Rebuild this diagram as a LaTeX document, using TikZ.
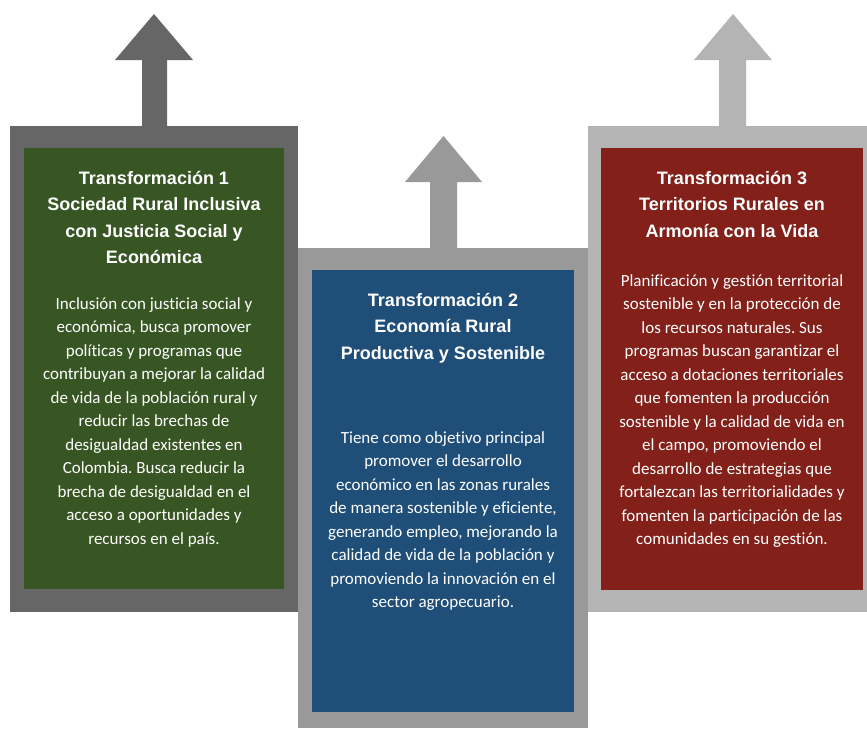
\documentclass[tikz,border=0pt]{standalone}
\usepackage{fontspec}
\setmainfont{Carlito}[Ligatures=NoCommon]
\newfontfamily\headfont{Liberation Sans}
\frenchspacing
\definecolor{frameone}{HTML}{666666}
\definecolor{frametwo}{HTML}{999999}
\definecolor{framethree}{HTML}{B4B4B4}
\definecolor{boxgreen}{HTML}{375623}
\definecolor{boxblue}{HTML}{1F4E79}
\definecolor{boxred}{HTML}{822019}
\tikzset{
  headtext/.style={text=white, align=center, inner sep=0pt, anchor=north,
    font=\headfont\bfseries\fontsize{18}{26.3}\selectfont},
  bodytext/.style={text=white, align=center, inner sep=0pt, anchor=north,
    font=\fontsize{17}{23.5}\selectfont}
}
\begin{document}
\begin{tikzpicture}[x=1pt,y=-1pt]
            \useasboundingbox (0,0) rectangle (867,728);
            \fill[white] (0,0) rectangle (867,728);

            \fill[frameone] (142,127) -- (142,60) -- (115,60) -- (154,14) -- (193,60) -- (167,60) -- (167,127) -- cycle;
            \fill[frameone] (10,126) rectangle (298,612);
            \fill[boxgreen] (24,148) rectangle (284,589);

            \fill[frametwo] (430,249) -- (430,182) -- (405,182) -- (443.5,136) -- (482,182) -- (457,182) -- (457,249) -- cycle;
            \fill[frametwo] (298,248) rectangle (588,728);
            \fill[boxblue] (312,270) rectangle (574,712);

            \fill[framethree] (719,127) -- (719,60) -- (694,60) -- (733,14) -- (772,60) -- (746,60) -- (746,127) -- cycle;
            \fill[framethree] (588,126) rectangle (867,612);
            \fill[boxred] (601,148) rectangle (863,590);

            \node[headtext] (title1) at (154,171) {Transformación 1\\Sociedad Rural Inclusiva\\con Justicia Social y\\Económica};
            \node[bodytext] (body1) at (154,297) {Inclusión con justicia social y\\económica, busca promover\\políticas y programas que\\contribuyan a mejorar la calidad\\de vida de la población rural y\\reducir las brechas de\\desigualdad existentes en\\Colombia. Busca reducir la\\brecha de desigualdad en el\\acceso a oportunidades y\\recursos en el país.};

            \node[headtext] (title2) at (443,293) {Transformación 2\\Economía Rural\\Productiva y Sostenible};
            \node[bodytext] (body2) at (443,431) {Tiene como objetivo principal\\promover el desarrollo\\económico en las zonas rurales\\de manera sostenible y eficiente,\\generando empleo, mejorando la\\calidad de vida de la población y\\promoviendo la innovación en el\\sector agropecuario.};

            \node[headtext] (title3) at (732,171) {Transformación 3\\Territorios Rurales en\\Armonía con la Vida};
            \node[bodytext] (body3) at (732,274) {Planificación y gestión territorial\\sostenible y en la protección de\\los recursos naturales. Sus\\programas buscan garantizar el\\acceso a dotaciones territoriales\\que fomenten la producción\\sostenible y la calidad de vida en\\el campo, promoviendo el\\desarrollo de estrategias que\\fortalezcan las territorialidades y\\fomenten la participación de las\\comunidades en su gestión.};
        \end{tikzpicture}
\end{document}
